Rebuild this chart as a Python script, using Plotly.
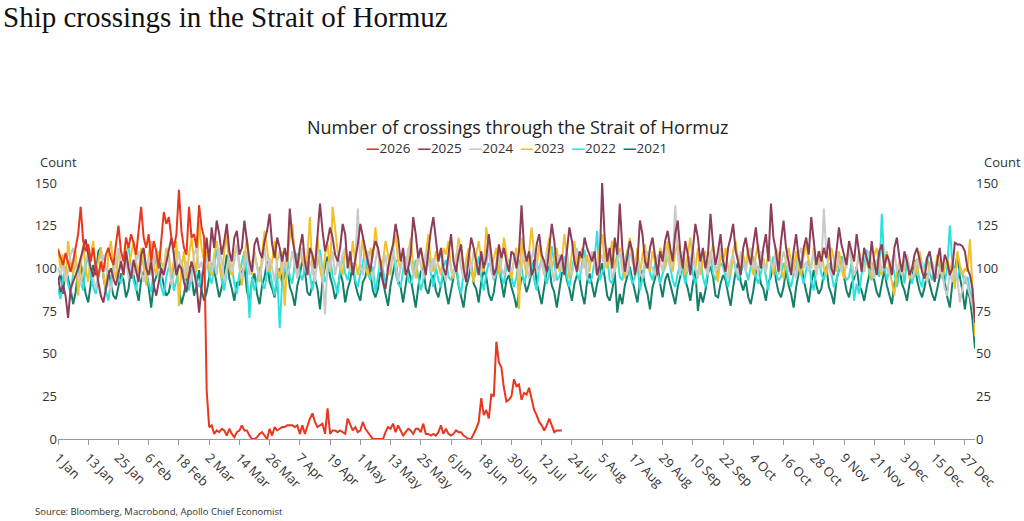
import pandas as pd
import plotly.graph_objects as go

# daily ship crossings (Jan 1 .. Dec 31)
y2026 = [111, 107, 102, 109, 104, 98, 104, 113, 120, 136, 116, 110, 114, 104, 112, 100, 95, 104, 98, 108,
         112, 106, 102, 114, 125, 110, 104, 118, 112, 120, 115,
         108, 122, 136, 118, 112, 120, 104, 116, 110, 100, 118, 133, 126, 130, 118, 112, 120, 146, 122,
         112, 108, 136, 118, 120, 112, 137, 124, 118,
         29, 7, 8, 3, 5, 4, 6, 5, 2, 6, 3, 1, 4, 5, 8, 5, 5, 2, 0, 0, 1, 3, 4, 2, 0, 6, 2, 7, 5, 6, 7,
         7, 8, 8, 8, 7, 8, 3, 8, 3, 8, 12, 15, 10, 7, 8, 9, 3, 18, 3, 5, 5, 4, 5, 4, 3, 12, 8, 5, 7, 4,
         5, 10, 6, 4, 2, 0, 0, 0, 0, 0, 4, 7, 6, 9, 4, 8, 5, 2, 4, 6, 5, 3, 6, 6, 4, 9, 3, 3, 2, 3, 2,
         4, 8, 3, 6, 3, 2, 3, 5, 4, 4, 2, 1, 0, 0, 3, 6, 10, 24, 14, 17, 12, 26, 25, 57, 45, 42, 30, 22,
         23, 25,
         35, 31, 32, 23, 27, 26, 30, 23, 17, 14, 10, 8, 5, 8, 12, 8, 4, 5, 5, 5]

y2025 = [95, 86, 90, 84, 71, 88, 92, 96, 100, 106, 112, 117, 108, 100, 95, 102, 92, 84, 80, 88,
         96, 100, 94, 90, 98, 104, 96, 110, 100, 94, 105,
         98, 92, 108, 112, 100, 96, 104, 90, 84, 92, 100, 96, 104, 112, 118, 108, 96, 102, 100, 92,
         86, 96, 104, 98, 90, 74, 88, 100,
         118, 104, 124, 112, 128, 120, 108, 116, 126, 110, 104, 118, 122, 108, 112, 128, 116, 104, 98, 114,
         118, 110, 106, 116, 122, 132, 114, 106, 118, 112, 104,
         112, 104, 135, 118, 110, 100, 112, 120, 104, 96, 112, 108, 100, 118, 138, 122, 110, 116, 124, 118,
         108, 104, 112, 126, 120, 100, 110, 96, 104, 114,
         126, 118, 110, 104, 98, 110, 116, 112, 104, 92, 88, 100, 108, 114, 126, 118, 104, 112, 96, 100,
         108, 130, 120, 106, 112, 104, 96, 110, 122, 130, 118,
         104, 112, 100, 96, 110, 120, 104, 98, 108, 114, 100, 92, 106, 118, 112, 104, 96, 110, 100, 106,
         120, 108, 96, 100, 114, 106, 112, 104, 98, 110,
         108, 100, 110, 137, 112, 104, 110, 96, 100, 114, 120, 108, 104, 98, 112, 126, 116, 100, 104, 108,
         96, 112, 124, 116, 104, 98, 110, 106, 118, 112, 108,
         104, 110, 96, 102, 150, 118, 104, 112, 100, 118, 108, 138, 112, 98, 106, 116, 110, 96, 104, 128,
         120, 104, 100, 112, 118, 106, 96, 110, 104, 116, 122,
         112, 104, 120, 128, 110, 100, 116, 108, 96, 110, 126, 118, 104, 112, 100, 108, 132, 114, 102, 110,
         120, 104, 98, 112, 118, 126, 110, 104, 96, 112,
         118, 108, 102, 114, 124, 110, 100, 112, 120, 104, 138, 118, 110, 98, 116, 128, 112, 104, 96, 110,
         120, 106, 100, 112, 118, 108, 130, 116, 102, 110, 104,
         112, 106, 118, 100, 96, 110, 124, 114, 108, 102, 116, 110, 104, 120, 108, 98, 112, 106, 100, 116,
         104, 96, 110, 114, 100, 108, 104, 96, 112, 118,
         106, 98, 110, 104, 96, 100, 108, 112, 104, 98, 94, 106, 110, 100, 92, 104, 112, 98, 108, 104,
         96, 100, 115, 114, 114, 113, 110, 100, 96, 88, 68]

y2024 = [100, 96, 104, 92, 98, 108, 112, 102, 96, 90, 98, 104, 110, 100, 94, 88, 96, 102, 108, 100,
         92, 86, 96, 104, 112, 100, 98, 106, 94, 102, 96,
         104, 110, 98, 92, 100, 106, 96, 102, 112, 98, 94, 100, 108, 104, 90, 96, 102, 110, 100, 94,
         104, 98, 92, 108, 112, 100, 104, 96,
         102, 110, 98, 106, 96, 112, 104, 92, 100, 108, 98, 104, 114, 100, 94, 102, 110, 96, 104, 108,
         100, 94, 102, 112, 98, 106, 100, 92, 104, 110, 98,
         104, 96, 100, 110, 102, 94, 108, 112, 100, 96, 104, 100, 92, 110, 106, 98, 73, 104, 100, 110,
         96, 104, 100, 108, 112, 106, 98, 100, 104, 135,
         102, 96, 106, 110, 100, 94, 104, 112, 98, 100, 108, 96, 102, 110, 104, 92, 100, 106, 98, 112,
         104, 96, 100, 108, 102, 94, 110, 104, 98, 106, 100,
         104, 110, 98, 92, 106, 100, 96, 108, 112, 100, 94, 102, 106, 98, 110, 104, 96, 100, 108, 102,
         112, 98, 94, 104, 110, 100, 96, 106, 102, 98,
         104, 108, 96, 100, 110, 102, 94, 106, 112, 100, 98, 104, 96, 110, 106, 100, 92, 104, 108, 98,
         102, 110, 100, 96, 104, 112, 98, 100, 106, 94, 104,
         110, 102, 96, 104, 108, 100, 112, 106, 94, 100, 104, 110, 98, 102, 96, 108, 112, 100, 104, 98,
         94, 106, 110, 102, 100, 96, 108, 104, 98, 112, 106,
         100, 104, 137, 108, 96, 110, 102, 98, 106, 112, 100, 94, 104, 108, 100, 96, 110, 104, 98, 102,
         112, 106, 100, 94, 104, 108, 100, 96, 110, 104,
         98, 106, 112, 100, 104, 96, 110, 102, 98, 108, 104, 100, 112, 96, 102, 110, 104, 98, 106, 100,
         94, 108, 112, 100, 104, 98, 102, 110, 96, 104, 100,
         135, 108, 100, 96, 104, 110, 102, 98, 106, 100, 112, 104, 96, 100, 108, 102, 98, 106, 110, 100,
         94, 104, 108, 98, 102, 100, 96, 104, 110, 98,
         102, 96, 104, 108, 100, 94, 98, 106, 100, 104, 96, 92, 100, 104, 98, 94, 100, 96, 88, 84,
         98, 92, 100, 94, 80, 88, 96, 90, 84, 78, 72]

y2023 = [112, 100, 108, 92, 116, 104, 96, 110, 84, 102, 114, 100, 92, 108, 116, 98, 104, 112, 96, 88,
         108, 116, 100, 94, 110, 104, 96, 112, 100, 108, 116,
         104, 96, 112, 100, 90, 108, 116, 102, 96, 110, 104, 100, 112, 108, 96, 104, 116, 78, 100, 110,
         94, 108, 118, 104, 98, 128, 112, 104,
         110, 100, 96, 108, 116, 104, 94, 110, 120, 100, 96, 108, 114, 102, 90, 106, 118, 104, 96, 110,
         100, 92, 108, 122, 112, 98, 104, 116, 100, 94, 110,
         78, 104, 118, 126, 108, 96, 112, 104, 100, 108, 130, 96, 104, 118, 100, 92, 108, 114, 98, 136,
         122, 110, 100, 96, 112, 106, 100, 116, 104, 96,
         104, 118, 100, 96, 112, 106, 124, 110, 98, 104, 116, 108, 96, 112, 120, 104, 100, 110, 96, 108,
         118, 102, 94, 106, 112, 100, 108, 120, 104, 98, 110,
         102, 96, 112, 108, 116, 100, 94, 104, 118, 110, 98, 106, 112, 100, 92, 108, 116, 104, 98, 124,
         110, 100, 106, 112, 96, 104, 118, 108, 100, 94,
         106, 112, 76, 118, 104, 96, 110, 124, 108, 100, 114, 104, 96, 110, 118, 100, 106, 112, 98, 104,
         120, 108, 94, 110, 116, 100, 104, 112, 100, 108, 98,
         110, 104, 96, 112, 120, 104, 100, 108, 116, 98, 106, 112, 100, 94, 110, 118, 104, 100, 112, 96,
         108, 114, 102, 98, 110, 104, 96, 112, 108, 100, 116,
         104, 98, 110, 114, 100, 106, 96, 108, 118, 104, 100, 112, 96, 104, 110, 98, 106, 114, 100, 92,
         108, 104, 112, 100, 96, 110, 116, 104, 100, 108,
         100, 112, 104, 96, 108, 114, 100, 106, 98, 110, 104, 96, 112, 108, 100, 94, 106, 112, 104, 98,
         110, 100, 96, 108, 114, 104, 100, 112, 96, 106, 110,
         100, 96, 108, 112, 104, 98, 110, 100, 94, 106, 112, 104, 96, 100, 110, 104, 98, 106, 100, 94,
         108, 112, 100, 96, 104, 110, 100, 92, 84, 98,
         104, 96, 100, 108, 94, 100, 104, 96, 110, 102, 98, 92, 104, 100, 96, 108, 102, 94, 100, 106,
         98, 104, 88, 110, 102, 96, 100, 98, 117, 88, 60]

y2022 = [88, 82, 95, 99, 91, 85, 97, 105, 97, 93, 87, 101, 108, 95, 89, 85, 94, 103, 97, 87,
         81, 93, 101, 106, 95, 91, 99, 110, 113, 101, 93,
         87, 97, 103, 109, 97, 91, 86, 99, 108, 97, 89, 84, 95, 101, 99, 87, 93, 101, 105, 95,
         91, 87, 97, 104, 93, 89, 96, 101,
         107, 96, 91, 101, 111, 103, 93, 87, 99, 105, 101, 91, 85, 97, 104, 110, 98, 71, 95, 87,
         93, 101, 91, 88, 97, 100, 91, 84, 97, 65, 92,
         101, 107, 95, 91, 103, 109, 97, 93, 101, 105, 95, 87, 97, 103, 111, 99, 92, 97, 107, 95,
         91, 85, 99, 107, 97, 93, 101, 103, 93, 89,
         97, 103, 111, 97, 93, 101, 86, 95, 105, 99, 91, 97, 103, 113, 97, 91, 89, 99, 107, 93,
         91, 97, 105, 95, 87, 93, 101, 107, 97, 89, 101,
         93, 89, 101, 105, 95, 93, 97, 103, 91, 85, 97, 101, 109, 99, 93, 99, 107, 95, 87, 97,
         103, 101, 93, 97, 111, 95, 91, 101, 105, 95,
         89, 95, 105, 101, 91, 97, 109, 103, 93, 87, 101, 105, 97, 91, 97, 113, 103, 93, 95, 101,
         107, 95, 89, 99, 107, 97, 93, 103, 111, 95, 91,
         95, 105, 122, 93, 97, 101, 107, 93, 91, 101, 109, 95, 93, 103, 111, 97, 91, 95, 103, 87,
         95, 101, 105, 97, 93, 103, 97, 91, 97, 101, 107,
         101, 93, 89, 97, 103, 99, 91, 101, 107, 97, 91, 97, 105, 95, 89, 101, 107, 97, 93, 99,
         103, 101, 95, 89, 97, 107, 99, 93, 97, 103,
         99, 93, 101, 107, 95, 91, 97, 105, 95, 87, 101, 107, 97, 93, 95, 103, 101, 93, 89, 97,
         101, 109, 97, 91, 99, 105, 93, 87, 101, 105, 97,
         93, 101, 103, 97, 89, 93, 101, 107, 97, 93, 95, 103, 81, 91, 85, 97, 101, 111, 97, 93,
         101, 105, 95, 132, 101, 93, 99, 103, 97, 89,
         97, 101, 91, 105, 99, 91, 97, 101, 93, 89, 101, 107, 97, 93, 99, 103, 101, 95, 91, 101,
         125, 103, 97, 93, 101, 97, 91, 95, 87, 81, 76]

y2021 = [92, 97, 85, 101, 94, 88, 79, 86, 99, 104, 93, 85, 80, 91, 102, 96, 110, 112, 95, 87,
         99, 91, 84, 82, 90, 97, 93, 83, 88, 101, 96,
         89, 81, 93, 98, 100, 87, 77, 91, 95, 106, 97, 90, 84, 86, 94, 103, 99, 88, 79, 85,
         93, 101, 96, 84, 90, 99, 87, 81,
         86, 95, 103, 99, 90, 83, 89, 97, 108, 94, 88, 81, 92, 90, 98, 101, 87, 80, 93, 97,
         85, 79, 90, 95, 104, 92, 88, 83, 94, 100, 91,
         97, 102, 89, 85, 78, 90, 96, 105, 99, 86, 84, 91, 94, 88, 76, 93, 101, 107, 95, 90,
         82, 87, 98, 92, 80, 88, 93, 103, 91, 85,
         81, 92, 95, 104, 97, 87, 83, 88, 99, 92, 85, 78, 90, 97, 105, 93, 89, 80, 91, 100,
         94, 86, 77, 89, 98, 101, 88, 85, 93, 96, 87,
         83, 91, 97, 86, 79, 87, 95, 102, 90, 83, 77, 89, 94, 103, 91, 88, 80, 92, 99, 95,
         85, 81, 86, 97, 101, 92, 83, 93, 96, 89,
         84, 77, 87, 95, 93, 86, 91, 99, 105, 92, 85, 79, 89, 98, 101, 90, 86, 77, 87, 97,
         103, 93, 88, 81, 91, 96, 94, 85, 79, 92, 97,
         89, 83, 91, 97, 103, 95, 84, 81, 87, 98, 74, 85, 79, 90, 95, 101, 93, 87, 80, 92,
         99, 90, 85, 76, 89, 94, 102, 91, 83, 93, 97,
         91, 85, 79, 89, 95, 104, 93, 88, 81, 91, 99, 75, 86, 80, 87, 97, 101, 95, 84, 83,
         91, 96, 93, 85, 78, 89, 98, 104, 92, 87,
         93, 83, 79, 87, 97, 101, 91, 88, 81, 92, 95, 105, 93, 86, 83, 89, 99, 90, 85, 77,
         89, 97, 103, 93, 87, 80, 91, 99, 90, 85, 88,
         97, 101, 89, 85, 79, 93, 99, 107, 95, 87, 83, 91, 94, 101, 90, 87, 81, 89, 97, 103,
         93, 86, 83, 91, 99, 90, 85, 79, 91, 95,
         101, 91, 87, 81, 91, 97, 105, 93, 87, 83, 89, 97, 91, 85, 81, 89, 95, 101, 91, 83,
         77, 91, 99, 108, 95, 87, 76, 88, 82, 70, 53]

years = ["2021", "2022", "2023", "2024", "2025", "2026"]
series = [y2021, y2022, y2023, y2024, y2025, y2026]
colors = ["#127f69", "#2ee0de", "#f0c12a", "#c9c9c9", "#8e3d58", "#e8361f"]

FONT = "Open Sans"
W, H = 1024, 521
L, R, T, B = 58, 49, 183, 82


def px(x):
    return (x - L) / (W - L - R)


def py(y):
    return (H - B - y) / (H - T - B)


fig = go.Figure()
for name, vals, col in zip(years, series, colors):
    dates = pd.date_range("2021-01-01", periods=len(vals), freq="D")
    fig.add_trace(go.Scatter(x=dates, y=vals, name=name, mode="lines",
                             line=dict(color=col, width=2), showlegend=False))

# dummy trace so the right-hand axis is drawn
fig.add_trace(go.Scatter(x=[pd.Timestamp("2021-01-01")], y=[None], yaxis="y2",
                         showlegend=False, hoverinfo="skip"))

legend_txt = "  ".join(
    f"<span style='color:{c}'><b>—</b></span>{n}"
    for n, c in zip(years[::-1], colors[::-1]))

fig.update_layout(
    width=W, height=H,
    margin=dict(l=L, r=R, t=T, b=B),
    paper_bgcolor="white", plot_bgcolor="white",
    font=dict(family=FONT, size=13, color="#333333"),
    xaxis=dict(
        range=["2021-01-01", "2021-12-31"],
        tick0="2021-01-01", dtick=12 * 86400000, tickformat="%-d %b",
        tickangle=45, ticks="outside", ticklen=5, tickcolor="#9a9a9a",
        showline=True, linecolor="#9a9a9a", linewidth=1,
        showgrid=False, zeroline=False,
        tickfont=dict(size=13, color="#333333"),
    ),
    yaxis=dict(
        range=[0, 150], tickvals=[0, 25, 50, 75, 100, 125, 150],
        showgrid=False, zeroline=False, showline=False, ticks="",
        tickfont=dict(size=13, color="#333333"),
    ),
    yaxis2=dict(
        range=[0, 150], tickvals=[0, 25, 50, 75, 100, 125, 150],
        overlaying="y", side="right",
        showgrid=False, zeroline=False, showline=False, ticks="",
        tickfont=dict(size=13, color="#333333"),
    ),
    annotations=[
        dict(text="Ship crossings in the Strait of Hormuz", x=px(1), y=py(17),
             xref="paper", yref="paper", xanchor="left", yanchor="middle",
             showarrow=False, font=dict(family="Liberation Serif", size=29, color="#111111")),
        dict(text="Number of crossings through the Strait of Hormuz", x=px(517), y=py(127),
             xref="paper", yref="paper", xanchor="center", yanchor="middle",
             showarrow=False, font=dict(family=FONT, size=18, color="#222222")),
        dict(text=legend_txt, x=px(516), y=py(148),
             xref="paper", yref="paper", xanchor="center", yanchor="middle",
             showarrow=False, font=dict(family=FONT, size=13.5, color="#333333")),
        dict(text="Count", x=px(58), y=py(162), xref="paper", yref="paper",
             xanchor="center", yanchor="middle", showarrow=False,
             font=dict(family=FONT, size=13, color="#333333")),
        dict(text="Count", x=px(1002), y=py(162), xref="paper", yref="paper",
             xanchor="center", yanchor="middle", showarrow=False,
             font=dict(family=FONT, size=13, color="#333333")),
        dict(text="Source: Bloomberg, Macrobond, Apollo Chief Economist", x=px(33), y=py(511),
             xref="paper", yref="paper", xanchor="left", yanchor="middle",
             showarrow=False, font=dict(family=FONT, size=9.5, color="#333333")),
    ],
)

fig.write_html("out.html", config={"displayModeBar": False},
               post_script="document.body.style.margin='0';document.body.style.overflow='hidden';")
